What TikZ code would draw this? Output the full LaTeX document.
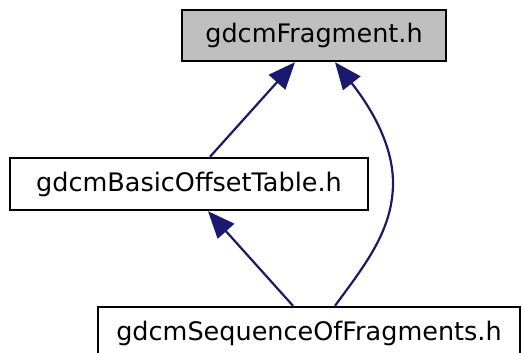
\documentclass[tikz,border=0pt]{standalone}
\usepackage{fontspec}
\setmainfont{DejaVu Sans}
\usetikzlibrary{arrows.meta}
\definecolor{edgeblue}{HTML}{191970}
\definecolor{nodegray}{HTML}{BFBFBF}
\tikzset{
  filebox/.style={draw=black, line width=2.4pt, inner sep=0pt, font=\fontsize{25.5}{30}\selectfont},
  dep/.style={draw=edgeblue, line width=2.2pt, -{Triangle[length=27pt,width=22pt]}, edgeblue}
}
\begin{document}
\begin{tikzpicture}[x=1pt,y=-1pt]
\useasboundingbox (0,0) rectangle (522,353);
\node[filebox, fill=nodegray, minimum width=264pt, minimum height=51pt] (n1) at (314,35.5) {gdcmFragment.h};
\node[filebox, fill=white, minimum width=358pt, minimum height=52pt] (n2) at (189,184) {gdcmBasicOffsetTable.h};
\node[filebox, fill=white, minimum width=422pt, minimum height=53pt] (n3) at (309,333.5) {gdcmSequenceOfFragments.h};
\draw[dep] ([xshift=21pt]n2.north) -- ([xshift=-19pt]n1.south);
\draw[dep] ([xshift=-16pt]n3.north) -- ([xshift=19pt]n2.south);
\draw[dep] ([xshift=26pt]n3.north) .. controls (365,265) and (393,230) .. (393,183)
  .. controls (393,140) and (365,100) .. ([xshift=21pt]n1.south);
\end{tikzpicture}
\end{document}
